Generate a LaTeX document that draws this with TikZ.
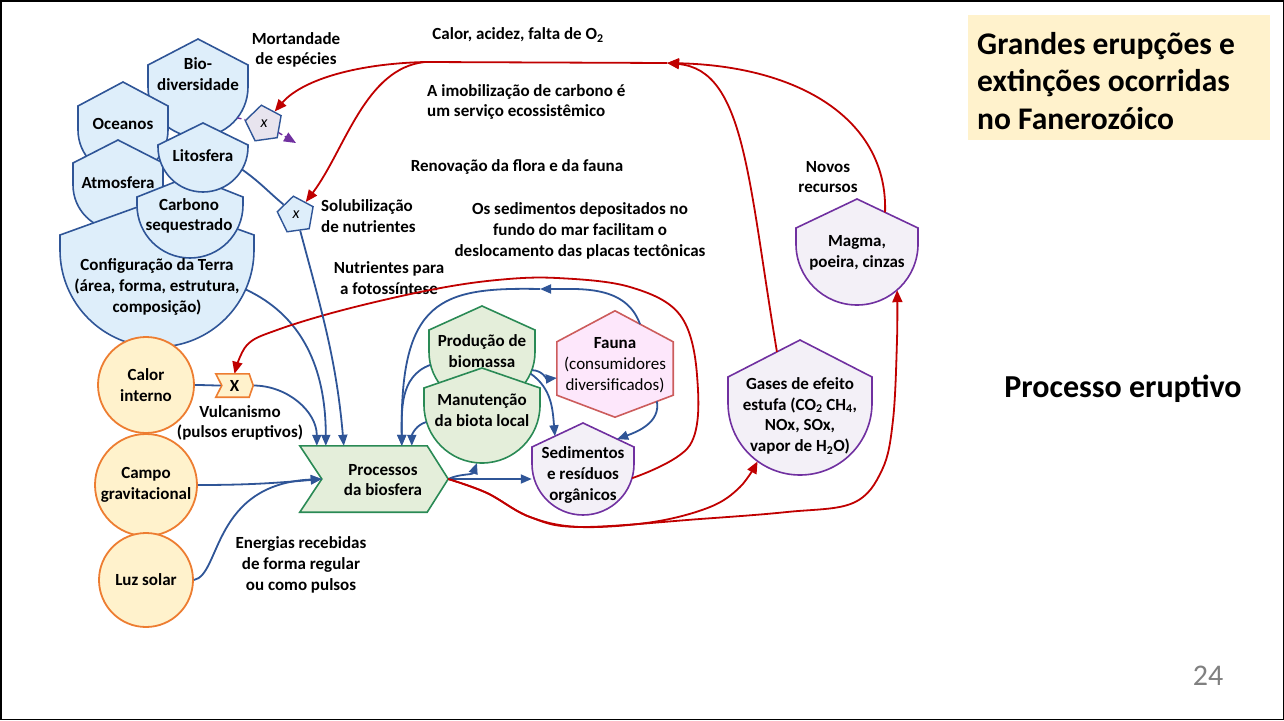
\documentclass[tikz,border=0pt]{standalone}
\usepackage{fontspec}
\setmainfont{Carlito}
\usetikzlibrary{arrows.meta,shapes.geometric,calc}

\definecolor{bfill}{HTML}{DEEEFA}
\definecolor{bline}{HTML}{2F5597}
\definecolor{gfill}{HTML}{E4EEDA}
\definecolor{gline}{HTML}{2A8A55}
\definecolor{pfill}{HTML}{FDE7FB}
\definecolor{pline}{HTML}{CC5C5C}
\definecolor{vfill}{HTML}{F3F0F7}
\definecolor{vline}{HTML}{7030A0}
\definecolor{ofill}{HTML}{FFF2CC}
\definecolor{oline}{HTML}{ED7D31}
\definecolor{rline}{HTML}{C00000}
\definecolor{xfill}{HTML}{E8E4EE}
\definecolor{cline}{HTML}{2F5597}

% style, name, cx, apex y, shoulder y, arc centre y, radius
\newcommand{\shield}[7]{%
  \path[#1] (#3,#4) -- ({#3+#7},#5) -- ({#3+#7},#6)
     arc[start angle=0,end angle=180,radius=#7] -- ({#3-#7},#5) -- cycle;
  \node[circle,inner sep=0pt,minimum size={2*#7}] (#2) at (#3,#6) {};
  \coordinate (#2-top) at (#3,#4);
  \coordinate (#2-l) at ({#3-#7},#5);
  \coordinate (#2-r) at ({#3+#7},#5);}

\tikzset{
  txt/.style={font=\fontsize{17}{20.7}\selectfont\bfseries, align=center, inner sep=0pt, text=black},
  bsh/.style={fill=bfill, draw=bline, line width=1.6pt},
  gsh/.style={fill=gfill, draw=gline, line width=1.6pt},
  vsh/.style={fill=vfill, draw=vline, line width=1.6pt},
  psh/.style={fill=pfill, draw=pline, line width=1.6pt},
  osh/.style={circle, fill=ofill, draw=oline, line width=1.8pt, inner sep=0pt},
  plain/.style={draw=cline, line width=1.8pt},
  conn/.style={draw=cline, line width=1.8pt, -{Triangle[length=11pt,width=9pt]}},
  rconn/.style={draw=rline, line width=1.8pt, -{Triangle[length=12pt,width=10pt]}},
  xbx/.style={regular polygon, regular polygon sides=5, shape border rotate=80,
     minimum size=38pt, inner sep=0pt, draw=bline, line width=1.4pt,
     font=\fontsize{16}{16}\selectfont\itshape},
  pdash/.style={draw=vline, line width=1.4pt, dash pattern=on 4pt off 3pt},
}

\begin{document}
\begin{tikzpicture}[x=1pt,y=-1pt]
\useasboundingbox (0,0) rectangle (1284,720);
\draw[line width=1.5pt] (0.75,0.75) rectangle (1283.25,719.25);

% ---- title
\node[fill=ofill, minimum width=302pt, minimum height=125pt, inner sep=0pt, anchor=north west] (tbox) at (968,15) {};
\node[font=\fontsize{31.5}{37.5}\selectfont\bfseries, align=left, anchor=west, inner sep=0pt] (title) at (977,81) {Grandes erupções e\\extinções ocorridas\\no Fanerozóico};
\node[font=\fontsize{32}{38}\selectfont\bfseries, inner sep=0pt] (procer) at (1123,389) {Processo eruptivo};
\node[font=\fontsize{30}{36}\selectfont, text=black!50, inner sep=0pt] (pnum) at (1208,676) {24};

% ---- blue shields (left cluster)
\shield{bsh}{bio}{198}{39}{65}{87}{50}
\shield{bsh}{oce}{123}{82}{106}{130}{45}
\shield{bsh}{atm}{118}{140}{163}{185}{45}
\shield{bsh}{conf}{157}{200}{235}{250}{97}
\shield{bsh}{carb}{190}{176}{197}{205}{53}
\shield{bsh}{lito}{203}{123}{145}{147}{45}
\node[txt] (bio-t) at (198,74) {Bio-\\diversidade};
\node[txt] (oce-t) at (123,124) {Oceanos};
\node[txt] (atm-t) at (118,183) {Atmosfera};
\node[txt] (lito-t) at (203,156) {Litosfera};
\node[txt] (carb-t) at (189,216) {Carbono\\sequestrado};
\node[txt] (conf-t) at (157,287) {Configuração da Terra\\(área, forma, estrutura,\\composição)};

% ---- orange circles
\node[osh, minimum size=96pt] (calor) at (146,385) {};
\node[osh, minimum size=102pt] (campo) at (146,485) {};
\node[osh, minimum size=94pt] (luz) at (146,580) {};
\node[txt] at (calor) {Calor\\interno};
\node[txt] at (campo) {Campo\\gravitacional};
\node[txt] at (luz) {Luz solar};

% ---- central shapes
\shield{gsh}{prod}{482}{306}{330}{352}{53}
\shield{gsh}{mant}{482}{368}{388}{405}{58}
\node[txt] (prod-t) at (482,351) {Produção de\\biomassa};
\node[txt] (mant-t) at (482,410) {Manutenção\\da biota local};

\node[minimum width=148pt, minimum height=66pt, inner sep=0pt] (proc) at (374,479) {};
\path[gsh] (proc.north west) -- ([xshift=-21pt]proc.north east) -- (proc.east)
  -- ([xshift=-21pt]proc.south east) -- (proc.south west) -- ([xshift=22pt]proc.west) -- cycle;
\node[txt] (proc-t) at (383,480) {Processos\\da biosfera};

\node[minimum width=116pt, minimum height=106pt, inner sep=0pt] (fauna) at (615,364) {};
\path[psh] (fauna.north) -- ([yshift=-31pt]fauna.north east) -- ([yshift=22pt]fauna.south east)
  -- (fauna.south) -- ([yshift=22pt]fauna.south west) -- ([yshift=-31pt]fauna.north west) -- cycle;
\node[txt] (fauna-t) at (615,365) {Fauna\\{\mdseries (consumidores}\\{\mdseries diversificados)}};

\shield{vsh}{sed}{583}{423}{447}{464}{51}
\node[txt] (sed-t) at (583,475) {Sedimentos\\e resíduos\\orgânicos};
\shield{vsh}{gases}{800}{340}{377}{403}{72}
\node[txt] (gases-t) at (800,416) {Gases de efeito\\estufa (CO\textsubscript{2} CH\textsubscript{4},\\NOx, SOx,\\vapor de H\textsubscript{2}O)};
\shield{vsh}{magma}{857}{199}{228}{244}{61}
\node[txt] (magma-t) at (857,253) {Magma,\\poeira, cinzas};

% ---- labels
\node[txt] (mort) at (296,50) {Mortandade\\de espécies};
\node[txt] (calac) at (518,35) {Calor, acidez, falta de O\textsubscript{2}};
\node[txt, align=left, anchor=west] (imob) at (427,102) {A imobilização de carbono é\\um serviço ecossistêmico};
\node[txt] (renov) at (517,167) {Renovação da flora e da fauna};
\node[txt, align=left, anchor=west] (solub) at (321,216) {Solubilização\\de nutrientes};
\node[txt] (sedim) at (580,231) {Os sedimentos depositados no\\fundo do mar facilitam o\\deslocamento das placas tectônicas};
\node[txt] (nutri) at (389,278) {Nutrientes para\\a fotossíntese};
\node[txt] (vulc) at (240,423) {Vulcanismo\\(pulsos eruptivos)};
\node[txt] (energ) at (301,565) {Energias recebidas\\de forma regular\\ou como pulsos};
\node[txt] (novos) at (828,177) {Novos\\recursos};

% ---- helper coordinates
\coordinate (faunaT) at ($(fauna.north)!0.43!([yshift=-31pt]fauna.north east)$);
\coordinate (faunaBR) at ($(fauna.south)!0.72!([yshift=22pt]fauna.south east)$);
\coordinate (faunaL) at ([yshift=-14pt]fauna.west);
\coordinate (sedTL) at ($(sed-top)!0.55!(sed-l)$);
\coordinate (sedTR) at ($(sed-top)!0.67!(sed-r)$);
\coordinate (sedR) at (sed.-16);
\coordinate (gasesT) at ($(gases-top)!0.32!(gases-l)$);
\coordinate (magmaT) at ($(magma-top)!0.46!(magma-r)$);
\coordinate (loop) at (540,289);
\coordinate (merge) at (667,63);
\coordinate (split) at (425,62);
\coordinate (pend) at (296,143);

% ---- x box (orange)
\node[minimum width=37pt, minimum height=23pt, inner sep=0pt] (xbox) at (234.5,385.5) {};

% ---- blue connectors
\draw[plain] (calor.east) to[out=0,in=180] ([xshift=6pt]xbox.west);
\draw[conn] (xbox.east) to[out=0,in=90] ([xshift=17pt]proc.north west);
\draw[conn] (conf.-24) to[out=-25,in=90] ([xshift=26pt]proc.north west);
\draw[conn] (campo.east) to[out=0,in=185] ([xshift=22pt]proc.west);
\draw[conn] (luz.east) .. controls +(27,-5) and +(-110,5) .. ([xshift=22pt]proc.west);
\draw[conn] (proc.east) -- (proc.east -| sed.west);
\draw[conn] (proc.east) to[out=25,in=250] (mant.265);
\draw[conn] (prod.194) to[out=200,in=90] ([xshift=102pt]proc.north west);
\draw[conn] (mant.197) to[out=195,in=90] ([xshift=112pt]proc.north west);
\draw[conn] (prod.-20) to[out=0,in=185] (faunaL);
\draw[conn] (prod.-24) to[out=-35,in=95] (sedTL);
\draw[conn] (faunaBR) to[out=-80,in=20] (sedTR);
\draw[conn] (faunaT) to[out=110,in=0] (loop);
\draw[conn] (loop) .. controls (440,287) and (400,300) .. ([xshift=102pt]proc.north west);

% ---- red connectors
\draw[rconn] (magmaT) .. controls (888,120) and (800,66) .. (merge);
\draw[rconn] (gasesT) .. controls (748,180) and (745,70) .. (merge);
\draw[rconn] plot[smooth, tension=0.6] coordinates {(sedR) (690,445) (697,375) (680,315) (630,287) (557,278) (497,280) (430,290) (343,310) (277,330) (247,345) (xbox.north)};
\draw[rconn] plot[smooth, tension=0.6] coordinates {(proc.east) (487,493) (530,517) (580,527) (653,522) (710,507) (740,487) (gases.234)};
\draw[rconn] plot[smooth, tension=0.6] coordinates {(proc.east) (487,493) (530,517) (580,527) (700,519) (787,512) (853,503) (882,470) (893,420) (897,340) (magma.-49)};

% ---- small boxes on top
\path[fill=ofill, draw=oline, line width=1.6pt] (xbox.north west) -- ([xshift=-4pt]xbox.north east) -- (xbox.east)
  -- ([xshift=-4pt]xbox.south east) -- (xbox.south west) -- ([xshift=6pt]xbox.west) -- cycle;
\node[font=\fontsize{17}{17}\selectfont\bfseries, inner sep=0pt] at (xbox) {X};
\node[xbx, fill=xfill] (box1) at (264,124) {x};
\node[xbx, fill=bfill] (box2) at (296,215) {x};

\draw[plain] (lito.-30) to[out=-35,in=140] (box2);
\draw[conn] (box2) to[out=-75,in=95] ([xshift=44pt]proc.north west);
\draw[pdash] (bio.-38) -- (box1);
\draw[pdash, -{Triangle[length=12pt,width=10pt]}] (box1) -- (pend);
\draw[rconn] (merge) -- (split) .. controls (350,64) and (300,82) .. (box1);
\draw[rconn] (split) .. controls (365,68) and (345,150) .. (box2);
\end{tikzpicture}
\end{document}
